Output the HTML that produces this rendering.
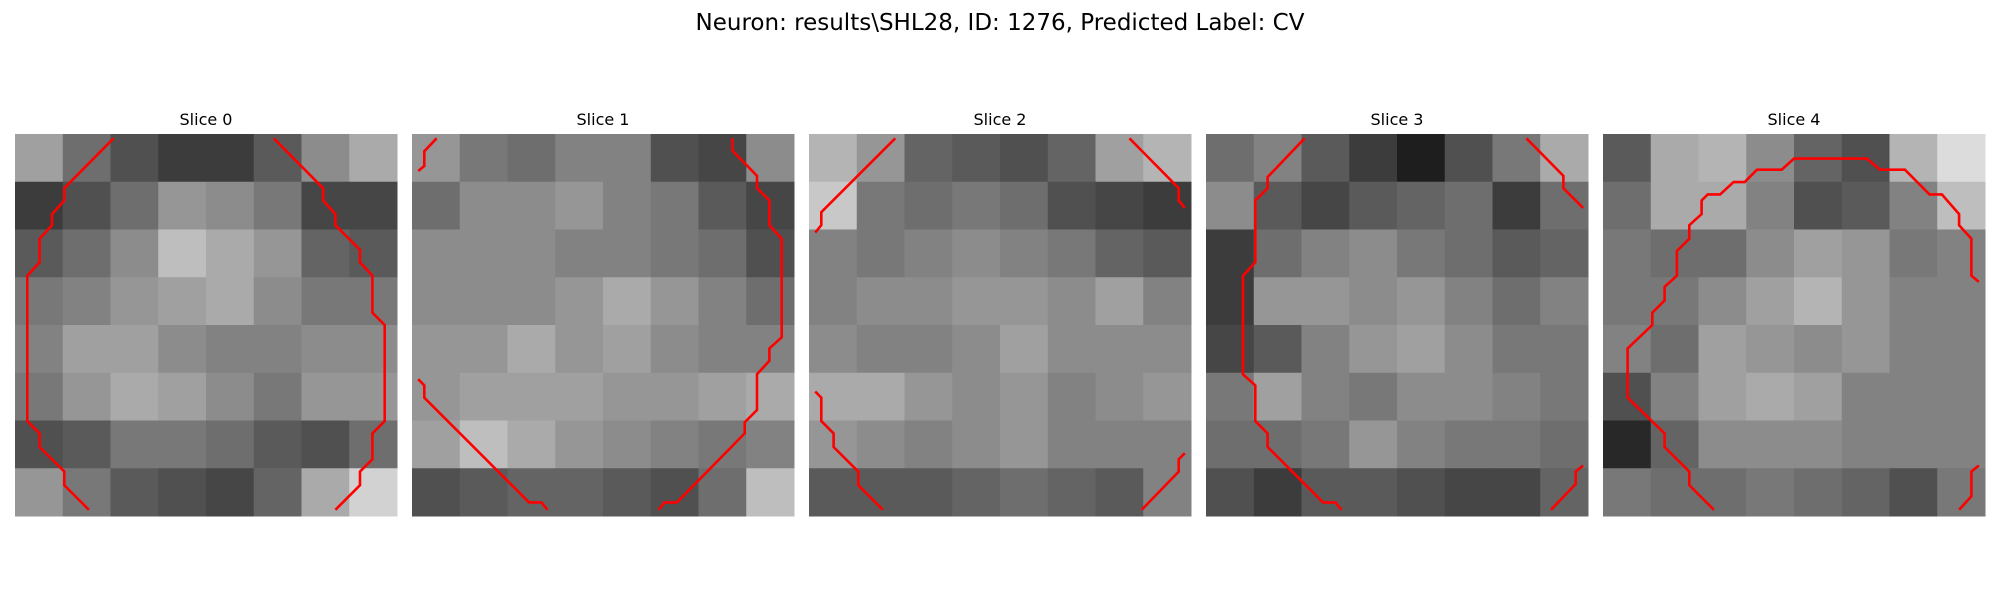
<!DOCTYPE html>
<html><head><meta charset="utf-8">
<style>
html,body{margin:0;padding:0;background:#fff;width:2000px;height:600px;overflow:hidden;}
svg{display:block;}
text{font-family:"DejaVu Sans","Liberation Sans",sans-serif;fill:#000;}
</style></head>
<body>
<svg id="chart" width="2000" height="600" viewBox="0 0 2000 600" xmlns="http://www.w3.org/2000/svg">
<text x="1000" y="30" font-size="23" text-anchor="middle">Neuron: results\SHL28, ID: 1276, Predicted Label: CV</text>
</svg>
<script>
// slice titles
const sliceTitles = ["Slice 0","Slice 1","Slice 2","Slice 3","Slice 4"];
// coarse 8x8 intensity estimates per slice (0=black,255=white)
const slice0 = [
[160,110,80,60,60,90,140,170],
[60,80,110,150,140,120,70,70],
[90,110,140,190,170,150,100,90],
[120,130,150,160,170,140,120,120],
[130,160,160,140,130,130,140,140],
[120,150,170,160,140,120,150,150],
[80,90,120,120,110,90,80,110],
[150,120,90,80,70,100,170,210]];
const slice1 = [
[150,120,110,130,130,80,70,140],
[110,140,140,150,130,120,90,70],
[140,140,140,130,130,120,110,80],
[140,140,140,150,170,150,130,110],
[150,150,170,150,160,140,130,130],
[150,160,160,160,150,150,160,170],
[160,190,170,150,140,130,120,130],
[80,90,100,100,90,80,110,190]];
const slice2 = [
[180,150,100,90,80,100,160,180],
[200,120,110,120,110,80,70,60],
[130,120,130,140,130,120,100,90],
[130,140,140,150,150,140,160,130],
[140,130,130,140,160,140,140,140],
[170,170,150,140,150,130,140,150],
[150,140,130,140,150,130,130,130],
[90,90,90,100,110,100,90,130]];
const slice3 = [
[110,130,90,60,30,80,120,170],
[140,90,70,90,100,110,60,110],
[60,110,130,140,120,110,90,100],
[60,150,150,140,150,130,110,130],
[70,90,130,150,160,140,120,120],
[120,160,130,120,140,140,130,120],
[110,110,120,150,130,120,120,110],
[80,60,90,90,80,70,70,100]];
const slice4 = [
[90,170,180,140,100,80,180,220],
[110,170,170,130,80,90,130,190],
[120,110,110,140,160,150,120,130],
[120,120,140,160,180,150,130,130],
[130,110,160,150,140,150,130,130],
[80,130,160,170,160,130,130,130],
[40,100,140,140,140,130,130,130],
[120,110,110,120,110,100,80,120]];
const sliceImages = [slice0,slice1,slice2,slice3,slice4];
// contour polylines in image-cell coordinates (0..31)
const contours0 = [
 [[8,0.35],[4,4.4],[4,5.4],[3,6.5],[3,7.4],[2,8.5],[2,10.4],[1,11.5],[1,23.3],[2,24.3],[2,25.4],[4,27.4],[4,28.5],[6,30.5]],
 [[21,0.35],[25,4.4],[25,5.4],[26,6.5],[26,7.4],[28,9.4],[28,10.4],[29,11.5],[29,14.5],[30,15.5],[30,23.3],[29,24.3],[29,26.4],[28,27.4],[28,28.5],[26,30.5]]];
const contours1 = [
 [[2,0.35],[1,1.4],[1,2.6],[0.5,3]],
 [[26,0.35],[26,1.35],[28,3.4],[28,4.4],[29,5.4],[29,7.4],[30,8.5],[30,16.5],[29,17.4],[29,18.4],[28,19.5],[28,22.4],[27,23.4],[27,24.3],[21.5,29.9],[20.5,29.9],[20,30.5]],
 [[0.5,19.9],[1,20.4],[1,21.4],[9.5,29.9],[10.5,29.9],[11,30.5]]];
const contours2 = [
 [[7,0.35],[1,6.35],[1,7.4],[0.5,8]],
 [[26,0.35],[30,4.4],[30,5.4],[30.5,6]],
 [[0.5,20.9],[1,21.4],[1,23.3],[2,24.3],[2,25.4],[4,27.4],[4,28.5],[6,30.5]],
 [[30.5,25.9],[30,26.4],[30,27.4],[27,30.5]]];
const contours3 = [
 [[8,0.35],[5,3.5],[5,4.4],[4,5.4],[4,10.4],[3,11.5],[3,19.5],[4,20.4],[4,23.3],[5,24.3],[5,25.4],[9.5,29.9],[10.5,29.9],[11,30.5]],
 [[26,0.35],[29,3.4],[29,4.4],[30.6,6]],
 [[30.6,26.9],[30,27.4],[30,28.4],[28,30.5]]];
const contours4 = [
 [[9,30.5],[7,28.5],[7,27.4],[5,25.4],[5,24.3],[2,21.4],[2,17.4],[4,15.5],[4,14.5],[5,13.5],[5,12.4],[6,11.5],[6,9.5],[7,8.5],[7,7.4],[8,6.5],[8,5.4],[8.5,4.9],[9.5,4.9],[10.6,3.9],[11.5,3.9],[12.5,2.9],[14.5,2.9],[15.5,2.0],[21.4,2.0],[22.5,2.9],[24.5,2.9],[26.5,4.9],[27.5,4.9],[28.9,6.5],[28.9,7.4],[29.9,8.5],[29.9,11.5],[30.5,12.0]],
 [[30.5,26.9],[29.9,27.4],[29.9,29.4],[28.9,30.5]]];
const sliceContours = [contours0,contours1,contours2,contours3,contours4];

const NS = "http://www.w3.org/2000/svg";
const svg = document.getElementById('chart');
const panelX0 = 15, panelStep = 397, panelY = 134, panelSize = 382, cells = 31;
function px(i, c){ return panelX0 + i*panelStep + c/cells*panelSize; }
function py(r){ return panelY + r/cells*panelSize; }

sliceImages.forEach((img, i) => {
  const g = document.createElementNS(NS,'g');
  
  
  svg.appendChild(g);
  const t = document.createElementNS(NS,'text');
  
  
  t.setAttribute('x', px(i, cells/2));
  t.setAttribute('y', 125);
  t.setAttribute('font-size', 16);
  t.setAttribute('text-anchor', 'middle');
  t.textContent = sliceTitles[i];
  g.appendChild(t);
  const n = img.length;
  img.forEach((row, r) => {
    row.forEach((v, c) => {
      const rect = document.createElementNS(NS,'rect');
      
      
      const x0 = px(i, c*cells/n), x1 = px(i, (c+1)*cells/n);
      const y0 = py(r*cells/n), y1 = py((r+1)*cells/n);
      rect.setAttribute('x', x0);
      rect.setAttribute('y', y0);
      rect.setAttribute('width', x1-x0+0.5);
      rect.setAttribute('height', y1-y0+0.5);
      rect.setAttribute('fill', `rgb(${v},${v},${v})`);
      g.appendChild(rect);
    });
  });
  sliceContours[i].forEach(line => {
    const pl = document.createElementNS(NS,'polyline');
    
    
    pl.setAttribute('points', line.map(p => px(i,p[0]).toFixed(1)+','+py(p[1]).toFixed(1)).join(' '));
    pl.setAttribute('fill', 'none');
    pl.setAttribute('stroke', '#ff0000');
    pl.setAttribute('stroke-width', 2.6);
    g.appendChild(pl);
  });
});
</script>
</body></html>
